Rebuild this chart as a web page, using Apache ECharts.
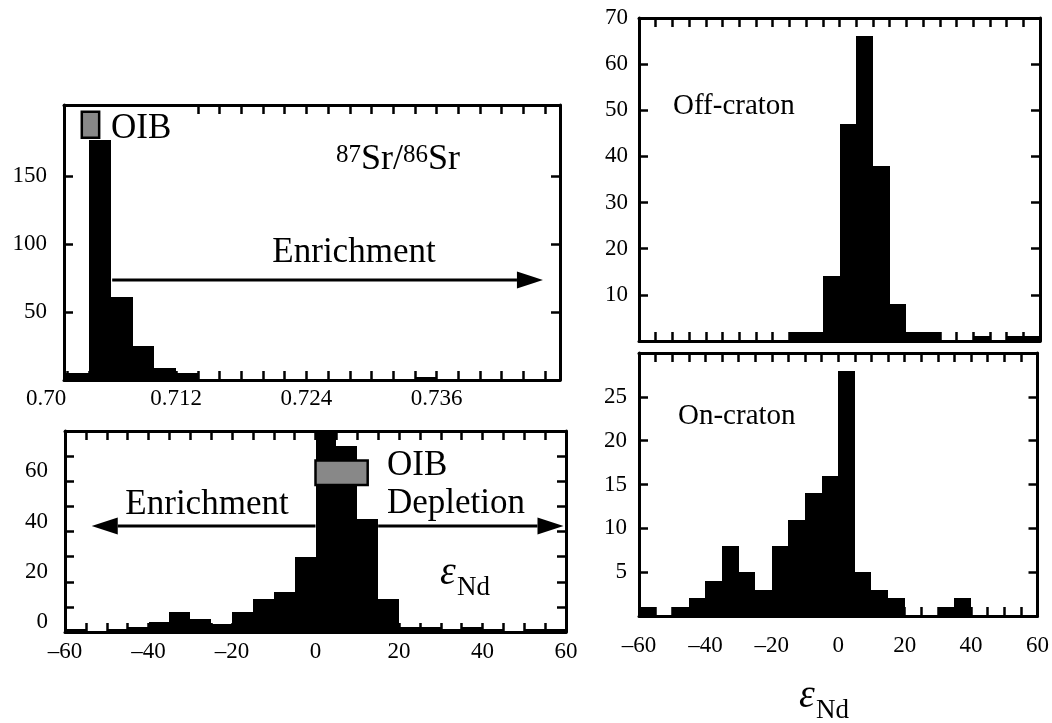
<!DOCTYPE html>
<html><head><meta charset="utf-8">
<script src="https://cdn.jsdelivr.net/npm/echarts@6/dist/echarts.min.js"></script>
<style>html,body{margin:0;padding:0;background:#fff}#c{width:1052px;height:723px}</style>
</head><body><div id="c"></div><script>
// ---------------- data ----------------
// 87Sr/86Sr histogram (bin width 0.002)
const srBinStart = [0.700,0.702,0.704,0.706,0.708,0.710,0.712,0.714,0.716,0.718,0.720,0.722,
                    0.724,0.726,0.728,0.730,0.732,0.734,0.736,0.738,0.740,0.742,0.744,0.746];
const srCounts   = [5,5,176,61,25,9,5,1,1,1,1,1,1,1,1,1,1,2,1,1,1,1,1,1];
const srTickLabels = [0.70, 0.712, 0.724, 0.736];
const srCountTicks = [50, 100, 150];
const oibSr = [0.7033, 0.7049, 178, 197];      // x0, x1, y0, y1
const srArrow = [0.7061, 0.7458, 73.5];        // from, to, y

// eps-Nd histograms (bin width 5)
const ndBinStart = [-60,-55,-50,-45,-40,-35,-30,-25,-20,-15,-10,-5,0,5,10,15,20,25,30,35,40,45,50,55];
const ndAllCounts     = [1,0,1,2,4,8,5,3,8,13,16,30,82,74,45,13,2,2,1,2,1,0,1,1];
const offCratonCounts = [0,0,0,0,0,0,0,0,0,2,2,14,47,66,38,8,2,2,0,0,1,0,1,1];
const onCratonCounts  = [1,0,1,2,4,8,5,3,8,11,14,16,28,5,3,2,0,0,1,2,0,0,0,0];
const ndTickLabels = [-60,-40,-20,0,20,40,60];
const ndAllCountLabels = [0,20,40,60];
const offCountLabels = [10,20,30,40,50,60,70];
const onCountLabels = [5,10,15,20,25];
const oibNd = [0, 12.5, 58.5, 68.3];
const ndArrows = [[0, -53.6, 42.2], [15, 59.4, 42.2]];

// ---------------- helpers ----------------
const FONT = 'Liberation Serif';
const BLACK = '#000';
function axLine(){ return {show:true, onZero:false, lineStyle:{color:BLACK, width:3}}; }
function ticks(extra){ return Object.assign({show:true, inside:true, length:9, lineStyle:{color:BLACK, width:2.5}}, extra||{}); }
function lab(extra){ return Object.assign({color:BLACK, fontFamily:FONT, fontSize:23}, extra||{}); }
const noSplit = {show:false};
const ndFmt = v => v < 0 ? '\u2013' + (-v) : String(v);

function histRender(width){
  return function(params, api){
    const x0 = api.value(0), c = api.value(1);
    if (!c) return null;
    const p0 = api.coord([x0, c]);
    const p1 = api.coord([x0 + width, 0]);
    const xa = Math.round(p0[0]), xb = Math.round(p1[0]);
    const ya = Math.round(p0[1]), yb = Math.round(p1[1]);
    return {type:'rect', shape:{x:xa, y:ya, width:xb-xa, height:yb-ya},
            style:{fill:BLACK}};
  };
}
function boxRender(params, api){
  const p0 = api.coord([api.value(0), api.value(3)]);
  const p1 = api.coord([api.value(1), api.value(2)]);
  return {type:'rect', shape:{x:p0[0], y:p0[1], width:p1[0]-p0[0], height:p1[1]-p0[1]},
          style:{fill:'#888', stroke:BLACK, lineWidth:2.5}};
}
function arrowRender(params, api){
  const a = api.coord([api.value(0), api.value(2)]);
  const b = api.coord([api.value(1), api.value(2)]);
  const dx = b[0]-a[0], dy = b[1]-a[1], len = Math.sqrt(dx*dx+dy*dy);
  const ux = dx/len, uy = dy/len, L = 26, H = 8.5;
  const bx = b[0]-ux*L, by = b[1]-uy*L;
  return {type:'group', children:[
    {type:'line', shape:{x1:a[0], y1:a[1], x2:bx, y2:by}, style:{stroke:BLACK, lineWidth:3}},
    {type:'polygon', shape:{points:[[b[0],b[1]],[bx-uy*H, by+ux*H],[bx+uy*H, by-ux*H]]}, style:{fill:BLACK}}
  ]};
}
function text(t, x, y, size, opts){
  opts = opts || {};
  return {type:'text', x:x, y:y, silent:true, z:10, style:{
    text:t, fill:BLACK, font:(opts.italic?'italic ':'') + size + 'px "' + FONT + '"',
    align:opts.align||'left', textAlign:opts.align||'left',
    verticalAlign:'middle', textVerticalAlign:'middle'}};
}

const srMin = 0.70166, srMax = 0.74737;
const srTicksBottom = srBinStart.filter(v => v > srMin + 1e-9);
const srTicksTop = srBinStart.filter(v => v >= 0.714 - 1e-9);

const option = {
  backgroundColor:'#fff',
  animation:false,
  grid:[
    {left:64, top:105, width:496, height:275},
    {left:46, top:105, width:514, height:275},
    {left:65, top:431, width:501, height:201},
    {left:639, top:18, width:401, height:323},
    {left:639, top:353, width:401, height:263}
  ],
  xAxis:[
    {gridIndex:0, type:'value', min:srMin, max:srMax, position:'bottom', axisLine:axLine(),
     axisTick:ticks({customValues:srTicksBottom}), axisLabel:{show:false}, splitLine:noSplit},
    {gridIndex:0, type:'value', min:srMin, max:srMax, position:'top', axisLine:axLine(),
     axisTick:ticks({customValues:srTicksTop}), axisLabel:{show:false}, splitLine:noSplit},
    {gridIndex:1, type:'value', min:0.70, max:srMax, position:'bottom', axisLine:{show:false},
     axisTick:{show:false}, splitLine:noSplit,
     axisLabel:lab({customValues:srTickLabels, margin:7,
       formatter:v => Math.abs(v-0.70) < 1e-9 ? '0.70' : v.toFixed(3)})},
    {gridIndex:2, type:'value', min:-60, max:60, interval:5, position:'bottom', axisLine:axLine(),
     axisTick:ticks(), splitLine:noSplit,
     axisLabel:lab({customValues:ndTickLabels, margin:8, formatter:ndFmt})},
    {gridIndex:2, type:'value', min:-60, max:60, interval:5, position:'top', axisLine:axLine(),
     axisTick:ticks(), axisLabel:{show:false}, splitLine:noSplit},
    {gridIndex:3, type:'value', min:-60, max:60, interval:5, position:'bottom', axisLine:axLine(),
     axisTick:ticks(), axisLabel:{show:false}, splitLine:noSplit},
    {gridIndex:3, type:'value', min:-60, max:60, interval:5, position:'top', axisLine:axLine(),
     axisTick:ticks(), axisLabel:{show:false}, splitLine:noSplit},
    {gridIndex:4, type:'value', min:-60, max:60, interval:5, position:'bottom', axisLine:axLine(),
     axisTick:ticks(), splitLine:noSplit,
     axisLabel:lab({customValues:ndTickLabels, margin:18, formatter:ndFmt})},
    {gridIndex:4, type:'value', min:-60, max:60, interval:5, position:'top', axisLine:axLine(),
     axisTick:ticks(), axisLabel:{show:false}, splitLine:noSplit}
  ],
  yAxis:[
    {gridIndex:0, type:'value', min:0, max:202, position:'left', axisLine:axLine(),
     axisTick:ticks({customValues:srCountTicks}), splitLine:noSplit,
     axisLabel:lab({customValues:srCountTicks, margin:17})},
    {gridIndex:0, type:'value', min:0, max:202, position:'right', axisLine:axLine(),
     axisTick:ticks({customValues:srCountTicks}), axisLabel:{show:false}, splitLine:noSplit},
    {gridIndex:1, type:'value', min:0, max:1, show:false},
    {gridIndex:2, type:'value', min:0, max:80, interval:10, position:'left', axisLine:axLine(),
     axisTick:ticks(), splitLine:noSplit,
     axisLabel:lab({customValues:ndAllCountLabels, margin:17, verticalAlign:'bottom', lineHeight:20})},
    {gridIndex:2, type:'value', min:0, max:80, interval:10, position:'right', axisLine:axLine(),
     axisTick:ticks(), axisLabel:{show:false}, splitLine:noSplit},
    {gridIndex:3, type:'value', min:0, max:70, interval:10, position:'left', axisLine:axLine(),
     axisTick:ticks(), splitLine:noSplit,
     axisLabel:lab({customValues:offCountLabels, margin:11})},
    {gridIndex:3, type:'value', min:0, max:70, interval:10, position:'right', axisLine:axLine(),
     axisTick:ticks(), axisLabel:{show:false}, splitLine:noSplit},
    {gridIndex:4, type:'value', min:0, max:30, interval:5, position:'left', axisLine:axLine(),
     axisTick:ticks(), splitLine:noSplit,
     axisLabel:lab({customValues:onCountLabels, margin:12})},
    {gridIndex:4, type:'value', min:0, max:30, interval:5, position:'right', axisLine:axLine(),
     axisTick:ticks(), axisLabel:{show:false}, splitLine:noSplit}
  ],
  series:[
    {type:'custom', xAxisIndex:0, yAxisIndex:0, clip:true, renderItem:histRender(0.002),
     data:srBinStart.map((x,i)=>[x, srCounts[i]])},
    {type:'custom', xAxisIndex:0, yAxisIndex:0, z:4, renderItem:boxRender, data:[oibSr]},
    {type:'custom', xAxisIndex:0, yAxisIndex:0, z:4, renderItem:arrowRender, data:[srArrow]},
    {type:'custom', xAxisIndex:3, yAxisIndex:3, clip:true, renderItem:histRender(5),
     data:ndBinStart.map((x,i)=>[x, ndAllCounts[i]])},
    {type:'custom', xAxisIndex:3, yAxisIndex:3, z:4, renderItem:boxRender, data:[oibNd]},
    {type:'custom', xAxisIndex:3, yAxisIndex:3, z:4, renderItem:arrowRender, data:ndArrows},
    {type:'custom', xAxisIndex:5, yAxisIndex:5, clip:true, renderItem:histRender(5),
     data:ndBinStart.map((x,i)=>[x, offCratonCounts[i]])},
    {type:'custom', xAxisIndex:7, yAxisIndex:7, clip:true, renderItem:histRender(5),
     data:ndBinStart.map((x,i)=>[x, onCratonCounts[i]])}
  ],
  graphic:[
    text('OIB', 111, 129, 35),
    text('87', 336, 155, 25),
    text('Sr/', 361, 160, 36),
    text('86', 403, 155, 25),
    text('Sr', 428, 160, 36),
    text('Enrichment', 354, 253, 35, {align:'center'}),
    text('OIB', 387, 466, 35),
    text('Enrichment', 207, 505, 35, {align:'center'}),
    text('Depletion', 387, 504, 35),
    text('\u03b5', 440, 573, 40, {italic:true}),
    text('Nd', 457, 588, 27),
    text('Off-craton', 673, 106, 29),
    text('On-craton', 678, 416, 29),
    text('\u03b5', 799, 696, 40, {italic:true}),
    text('Nd', 816, 711, 27)
  ]
};
const chart = echarts.init(document.getElementById('c'), null, {renderer:'canvas'});
chart.setOption(option);
</script></body></html>
